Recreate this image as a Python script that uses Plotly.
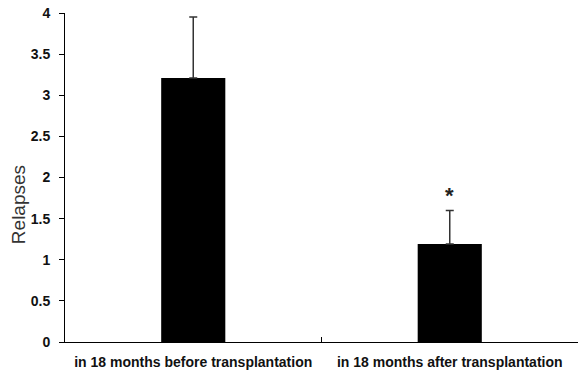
import plotly.graph_objects as go

categories = ["in 18 months before transplantation", "in 18 months after transplantation"]
relapses = [3.21, 1.19]
errors_up = [0.74, 0.41]
significance = ["", "*"]
y_title = "Relapses"

font_lab = "Liberation Sans, Arial, sans-serif"

fig = go.Figure()
fig.add_trace(go.Bar(
    x=categories, y=relapses,
    marker=dict(color="black", line=dict(width=0)),
    error_y=dict(type="data", array=errors_up, arrayminus=[0, 0], symmetric=False,
                 color="#333333", thickness=1.5, width=4),
    showlegend=False,
))

for c, v, e, s in zip(categories, relapses, errors_up, significance):
    if s:
        fig.add_annotation(x=c, y=v + e, text="<b>" + s + "</b>", showarrow=False,
                           yanchor="bottom", yshift=0,
                           font=dict(family="Liberation Sans, Arial, sans-serif", size=22, color="#222"))

fig.add_annotation(xref="paper", yref="paper", x=-0.0916, y=0.416, text=y_title,
                   textangle=-90, showarrow=False, xanchor="center", yanchor="middle",
                   font=dict(family="Liberation Sans, Arial, sans-serif", size=19, color="#333"))

fig.update_layout(
    width=582, height=383,
    margin=dict(l=65, r=4, t=13, b=41),
    paper_bgcolor="white", plot_bgcolor="white",
    bargap=0.75,
    xaxis=dict(showline=True, linecolor="black", linewidth=1, automargin=False,
               ticks="inside", tickson="boundaries", ticklen=5, tickcolor="black",
               showgrid=False, ticklabelstandoff=7, tickangle=0, ticklabeloverflow="allow",
               tickfont=dict(family=font_lab, size=14, color="#111", weight="bold")),
    yaxis=dict(range=[0, 4], dtick=0.5, showline=True, linecolor="black", linewidth=1,
               automargin=False, ticklabeloverflow="allow",
               ticks="outside", ticklen=5, tickcolor="black", showgrid=False, zeroline=False,
               ticklabelstandoff=6,
               tickfont=dict(family=font_lab, size=14, color="#111", weight="bold")),
)

fig.write_html("out.html", config={"displayModeBar": False},
               post_script="document.body.style.margin='0';document.body.style.overflow='hidden';")
